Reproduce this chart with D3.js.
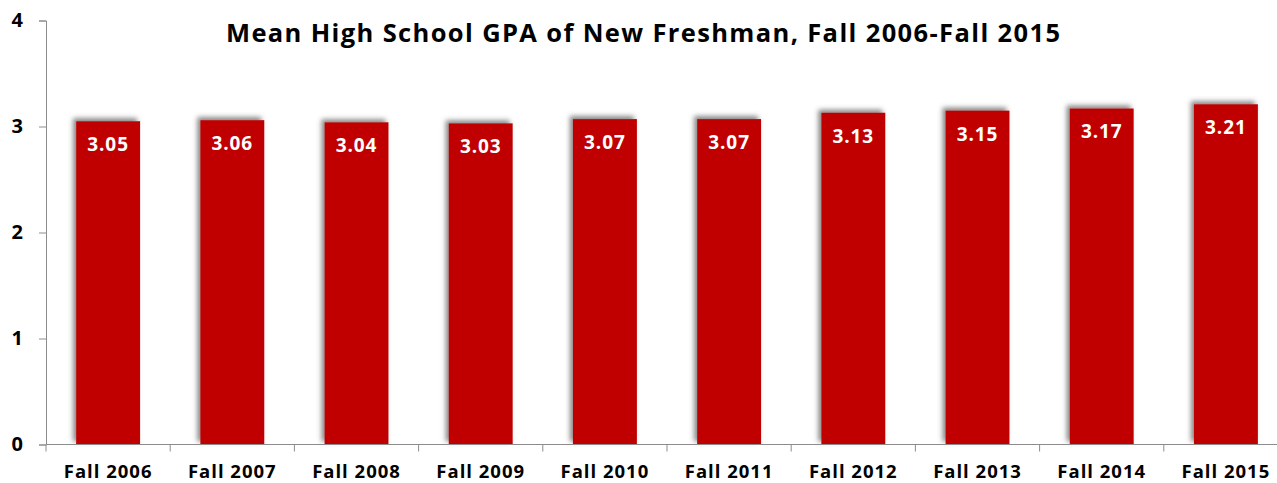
<!DOCTYPE html>
<html><head><meta charset="utf-8">
<script src="https://cdn.jsdelivr.net/npm/d3@7"></script>
<style>body{margin:0;background:#fff}text{font-family:"Open Sans",sans-serif;font-weight:bold}</style>
</head><body><svg id="c" width="1277" height="483"></svg>
<script>
const categories = ["Fall 2006","Fall 2007","Fall 2008","Fall 2009","Fall 2010","Fall 2011","Fall 2012","Fall 2013","Fall 2014","Fall 2015"];
const values = [3.05,3.06,3.04,3.03,3.07,3.07,3.13,3.15,3.17,3.21];
const yTicks = [0,1,2,3,4];
const title = "Mean High School GPA of New Freshman, Fall 2006-Fall 2015";

const svg = d3.select("#c");
const defs = svg.append("defs");
const f = defs.append("filter").attr("id","sh").attr("x","-20%").attr("y","-20%").attr("width","140%").attr("height","140%");
f.append("feDropShadow").attr("dx",-3).attr("dy",-3).attr("stdDeviation",2.5).attr("flood-color","#555").attr("flood-opacity",0.7);

const x = d3.scaleBand().domain(categories).range([46,1288]).paddingInner(0.485).paddingOuter(0.2425);
const y = d3.scaleLinear().domain([0,4]).range([444.5,20.5]);

svg.append("g").selectAll("rect").data(values).join("rect")
  .attr("x",(d,i)=>x(categories[i])).attr("width",x.bandwidth())
  .attr("y",d=>y(d)).attr("height",d=>y(0)-y(d))
  .attr("fill","#C00000").attr("filter","url(#sh)");

svg.append("g").selectAll("text").data(values).join("text")
  .attr("x",(d,i)=>x(categories[i])+x.bandwidth()/2).attr("y",d=>y(d)+30)
  .attr("text-anchor","middle").attr("fill","#fff").attr("font-size",19).attr("letter-spacing",0.9)
  .text(d=>d.toFixed(2));

const fam = "'Open Sans',sans-serif";
// y axis
const ya = svg.append("g").attr("transform","translate(46,0)")
  .call(d3.axisLeft(y).tickValues(yTicks).tickFormat(d3.format("d")).tickSize(7).tickPadding(16));
ya.select(".domain").attr("stroke","#8c8c8c");
ya.selectAll(".tick line").attr("stroke","#8c8c8c");
ya.selectAll(".tick text").attr("font-size",20).attr("fill","#000").attr("font-family",fam).attr("font-weight","bold");

// x axis
const xa = svg.append("g").attr("transform","translate(0,444.5)")
  .call(d3.axisBottom(x).tickSize(0).tickPadding(20));
xa.select(".domain").attr("stroke","#8c8c8c").attr("d","M46,0H1288");
xa.selectAll(".tick text").attr("font-size",18.5).attr("fill","#000").attr("font-family",fam).attr("font-weight","bold").attr("letter-spacing",1);
const bounds = d3.range(categories.length+1).map(i=>46+i*x.step());
svg.append("g").selectAll("line").data(bounds).join("line")
  .attr("x1",d=>d).attr("x2",d=>d).attr("y1",444.5).attr("y2",451.5).attr("stroke","#8c8c8c");

svg.append("text").attr("x",643).attr("y",42).attr("text-anchor","middle").attr("font-size",25.5).attr("fill","#000")
  .attr("textLength",834).attr("lengthAdjust","spacing").text(title);
</script></body></html>
